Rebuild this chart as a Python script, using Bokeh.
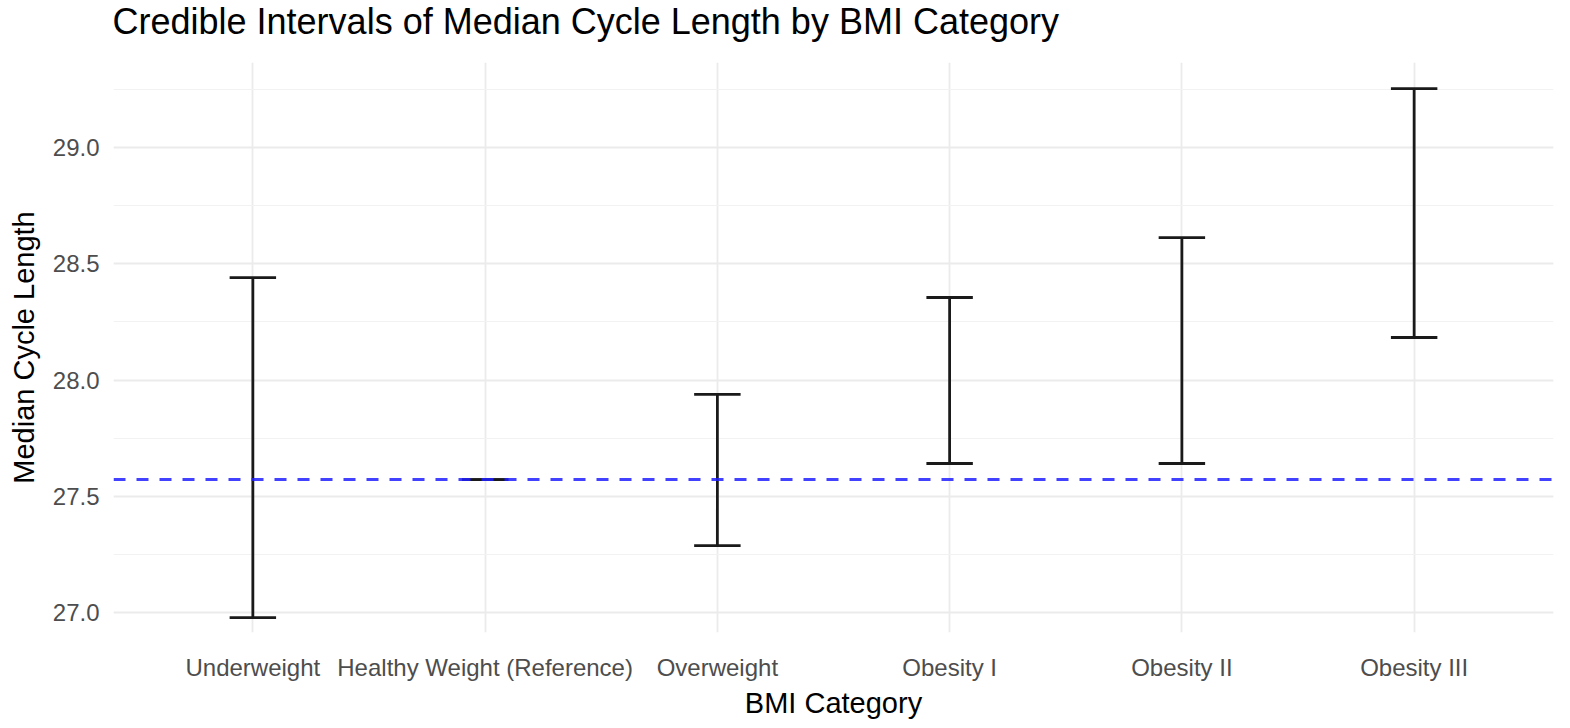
from bokeh.plotting import figure
from bokeh.models import Range1d, FixedTicker, SingleIntervalTicker, NumeralTickFormatter, Span, Title, ColumnDataSource
from bokeh.embed import file_html
from bokeh.resources import INLINE

categories = ["Underweight", "Healthy Weight (Reference)", "Overweight", "Obesity I", "Obesity II", "Obesity III"]
lower = [26.978, 27.572, 27.288, 27.641, 27.641, 28.183]
upper = [28.441, 27.572, 27.938, 28.355, 28.613, 29.254]
reference = 27.572
cap_width = 0.2

title_text = "Credible Intervals of Median Cycle Length by BMI Category"
x_title = "BMI Category"
y_title = "Median Cycle Length"

xs = list(range(1, len(categories) + 1))
src = ColumnDataSource(dict(
    x=xs, lo=lower, hi=upper,
    xl=[x - cap_width / 2 for x in xs], xr=[x + cap_width / 2 for x in xs],
))

FONT = "Liberation Sans"

p = figure(width=1570, height=728, output_backend="svg", toolbar_location=None,
           x_range=Range1d(0.4, len(categories) + 0.6), y_range=Range1d(26.914, 29.366),
           min_border_left=113, min_border_right=17, min_border_top=62, min_border_bottom=96)
p.outline_line_color = None
p.background_fill_color = "white"
p.border_fill_color = "white"

# blank spacer panel between the frame and the title
p.add_layout(Title(text=" ", text_font_size="2px", standoff=15), "above")
p.add_layout(Title(text=title_text, text_font=FONT, text_font_size="36px", text_font_style="normal",
                   text_color="black", align="left", vertical_align="top", offset=-1, standoff=0), "above")

# axes
p.xaxis.ticker = FixedTicker(ticks=xs)
p.xaxis.major_label_overrides = {x: c for x, c in zip(xs, categories)}
p.yaxis.ticker = SingleIntervalTicker(interval=0.5, num_minor_ticks=2)
p.yaxis.formatter = NumeralTickFormatter(format="0.0")
for ax in (p.xaxis[0], p.yaxis[0]):
    ax.axis_line_color = None
    ax.major_tick_line_color = None
    ax.minor_tick_line_color = None
    ax.major_tick_out = 0
    ax.major_tick_in = 0
    ax.minor_tick_out = 0
    ax.minor_tick_in = 0
    ax.major_label_text_font = FONT
    ax.major_label_text_font_size = "24px"
    ax.major_label_text_color = "#4d4d4d"
    ax.axis_label_text_font = FONT
    ax.axis_label_text_font_size = "29px"
    ax.axis_label_text_font_style = "normal"
    ax.axis_label_text_color = "black"
p.xaxis.axis_label = x_title
p.yaxis.axis_label = y_title
p.xaxis.major_label_standoff = 21
p.xaxis.axis_label_standoff = 3
p.yaxis.major_label_standoff = 14
p.yaxis.axis_label_standoff = 10

# grids
p.xgrid.grid_line_color = "#ebebeb"
p.xgrid.grid_line_width = 1.8
p.ygrid.grid_line_color = "#ebebeb"
p.ygrid.grid_line_width = 1.8
p.ygrid.minor_grid_line_color = "#f2f2f2"
p.ygrid.minor_grid_line_width = 1.2

# error bars
for a, b, c, d in (("x", "lo", "x", "hi"), ("xl", "lo", "xr", "lo"), ("xl", "hi", "xr", "hi")):
    p.segment(x0=a, y0=b, x1=c, y1=d, source=src, line_color="#1a1a1a", line_width=2.8)

p.add_layout(Span(location=reference, dimension="width", line_color="#2020ff", line_alpha=0.85,
                  line_width=3, line_dash="12 11"))

open("out.html", "w").write(file_html(p, INLINE))
